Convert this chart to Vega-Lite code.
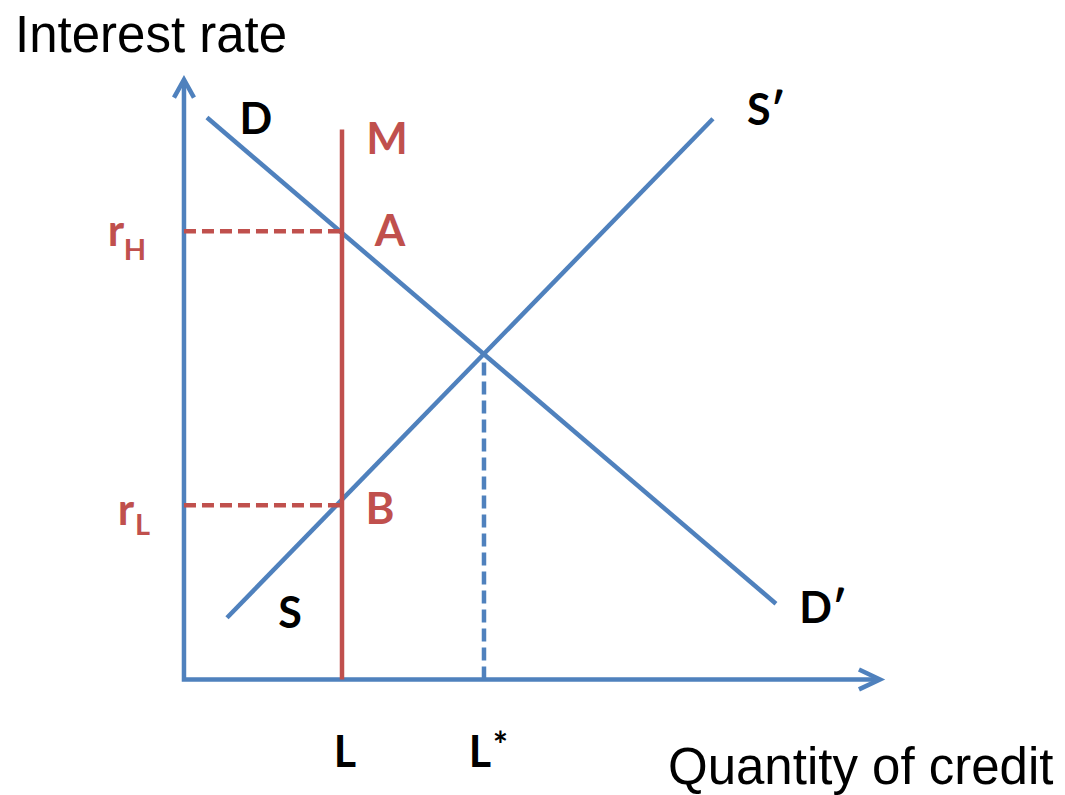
{
  "$schema": "https://vega.github.io/schema/vega-lite/v6.json",
  "autosize": {"type": "fit", "contains": "padding"},
  "width": 1065,
  "height": 795,
  "padding": 0,
  "background": "white",
  "config": {"view": {"stroke": null}},
  "datasets": {
    "lines": [
      {"seg": "axis", "ord": 1, "q": 0, "r": 86.3},
      {"seg": "axis", "ord": 2, "q": 0, "r": 0},
      {"seg": "axis", "ord": 3, "q": 100.0, "r": 0},
      {"seg": "arrowY", "ord": 1, "q": -1.44, "r": 84.15},
      {"seg": "arrowY", "ord": 2, "q": 0, "r": 86.74},
      {"seg": "arrowY", "ord": 3, "q": 1.44, "r": 84.15},
      {"seg": "arrowX", "ord": 1, "q": 97.26, "r": 1.44},
      {"seg": "arrowX", "ord": 2, "q": 100.29, "r": 0},
      {"seg": "arrowX", "ord": 3, "q": 97.26, "r": -1.44},
      {"seg": "D", "ord": 1, "q": 3.31, "r": 81.27},
      {"seg": "D", "ord": 2, "q": 85.3, "r": 10.95},
      {"seg": "S", "ord": 1, "q": 6.2, "r": 8.93},
      {"seg": "S", "ord": 2, "q": 76.22, "r": 81.1},
      {"seg": "M", "ord": 1, "q": 22.77, "r": 0},
      {"seg": "M", "ord": 2, "q": 22.77, "r": 79.54},
      {"seg": "rH", "ord": 1, "q": 0, "r": 64.84},
      {"seg": "rH", "ord": 2, "q": 22.77, "r": 64.84},
      {"seg": "rL", "ord": 1, "q": 0, "r": 25.2},
      {"seg": "rL", "ord": 2, "q": 22.77, "r": 25.2},
      {"seg": "Lstar", "ord": 1, "q": 43.23, "r": 0},
      {"seg": "Lstar", "ord": 2, "q": 43.23, "r": 46.97}
    ],
    "labels": [
      {"kind": "black", "label": "D", "q": 10.37, "r": 78.82},
      {"kind": "black", "label": "S", "q": 15.27, "r": 7.49},
      {"kind": "black", "label": "L", "q": 23.2, "r": -12.68},
      {"kind": "black", "label": "L", "q": 42.65, "r": -12.68},
      {"kind": "black", "label": "S′", "q": 83.86, "r": 80.26},
      {"kind": "black", "label": "D′", "q": 92.07, "r": 8.21},
      {"kind": "red", "label": "M", "q": 29.25, "r": 75.94},
      {"kind": "red", "label": "A", "q": 29.68, "r": 62.68},
      {"kind": "red", "label": "B", "q": 28.24, "r": 22.48},
      {"kind": "red", "label": "r", "q": -9.8, "r": 62.68},
      {"kind": "red", "label": "r", "q": -8.36, "r": 22.33},
      {"kind": "redsub", "label": "H", "q": -7.06, "r": 60.66},
      {"kind": "redsub", "label": "L", "q": -5.98, "r": 20.89},
      {"kind": "blacksup", "label": "*", "q": 45.6, "r": -11.3},
      {"kind": "title", "label": "Interest rate", "q": -24.35, "r": 90.78},
      {"kind": "title", "label": "Quantity of credit", "q": 69.74, "r": -15.13}
    ]
  },
  "encoding": {
    "x": {"field": "q", "type": "quantitative", "axis": null, "scale": {"domain": [-26.51, 126.95], "nice": false, "zero": false}},
    "y": {"field": "r", "type": "quantitative", "axis": null, "scale": {"domain": [-16.28, 98.27], "nice": false, "zero": false}}
  },
  "layer": [
    {
      "data": {"name": "lines"},
      "transform": [{"filter": "indexof(['axis','arrowY','arrowX','D','S'], datum.seg) >= 0"}],
      "mark": {"type": "line", "color": "#4F81BD", "strokeWidth": 4.5, "strokeJoin": "miter", "strokeCap": "butt"},
      "encoding": {"detail": {"field": "seg"}, "order": {"field": "ord", "type": "quantitative"}}
    },
    {
      "data": {"name": "lines"},
      "transform": [{"filter": "datum.seg === 'M'"}],
      "mark": {"type": "line", "color": "#C0504D", "strokeWidth": 4.5},
      "encoding": {"detail": {"field": "seg"}, "order": {"field": "ord", "type": "quantitative"}}
    },
    {
      "data": {"name": "lines"},
      "transform": [{"filter": "datum.seg === 'rH' || datum.seg === 'rL'"}],
      "mark": {"type": "line", "color": "#C0504D", "strokeWidth": 4.5, "strokeDash": [12, 6]},
      "encoding": {"detail": {"field": "seg"}, "order": {"field": "ord", "type": "quantitative"}}
    },
    {
      "data": {"name": "lines"},
      "transform": [{"filter": "datum.seg === 'Lstar'"}],
      "mark": {"type": "line", "color": "#4F81BD", "strokeWidth": 4.5, "strokeDash": [13, 6]},
      "encoding": {"detail": {"field": "seg"}, "order": {"field": "ord", "type": "quantitative"}}
    },
    {
      "data": {"name": "labels"},
      "transform": [{"filter": "datum.kind === 'black'"}],
      "mark": {"type": "text", "font": "Lato", "fontWeight": "bold", "fontSize": 43, "color": "black", "align": "center", "baseline": "alphabetic"},
      "encoding": {"text": {"field": "label"}}
    },
    {
      "data": {"name": "labels"},
      "transform": [{"filter": "datum.kind === 'red'"}],
      "mark": {"type": "text", "font": "Lato", "fontWeight": "bold", "fontSize": 44, "color": "#C0504D", "align": "center", "baseline": "alphabetic"},
      "encoding": {"text": {"field": "label"}}
    },
    {
      "data": {"name": "labels"},
      "transform": [{"filter": "datum.kind === 'redsub'"}],
      "mark": {"type": "text", "font": "Lato", "fontWeight": "bold", "fontSize": 29, "color": "#C0504D", "align": "center", "baseline": "alphabetic"},
      "encoding": {"text": {"field": "label"}}
    },
    {
      "data": {"name": "labels"},
      "transform": [{"filter": "datum.kind === 'blacksup'"}],
      "mark": {"type": "text", "font": "Lato", "fontWeight": "bold", "fontSize": 36, "color": "black", "align": "center", "baseline": "alphabetic"},
      "encoding": {"text": {"field": "label"}}
    },
    {
      "data": {"name": "labels"},
      "transform": [{"filter": "datum.kind === 'title'"}],
      "mark": {"type": "text", "font": "Liberation Sans", "fontSize": 51, "color": "black", "align": "left", "baseline": "alphabetic"},
      "encoding": {"text": {"field": "label"}}
    }
  ]
}
